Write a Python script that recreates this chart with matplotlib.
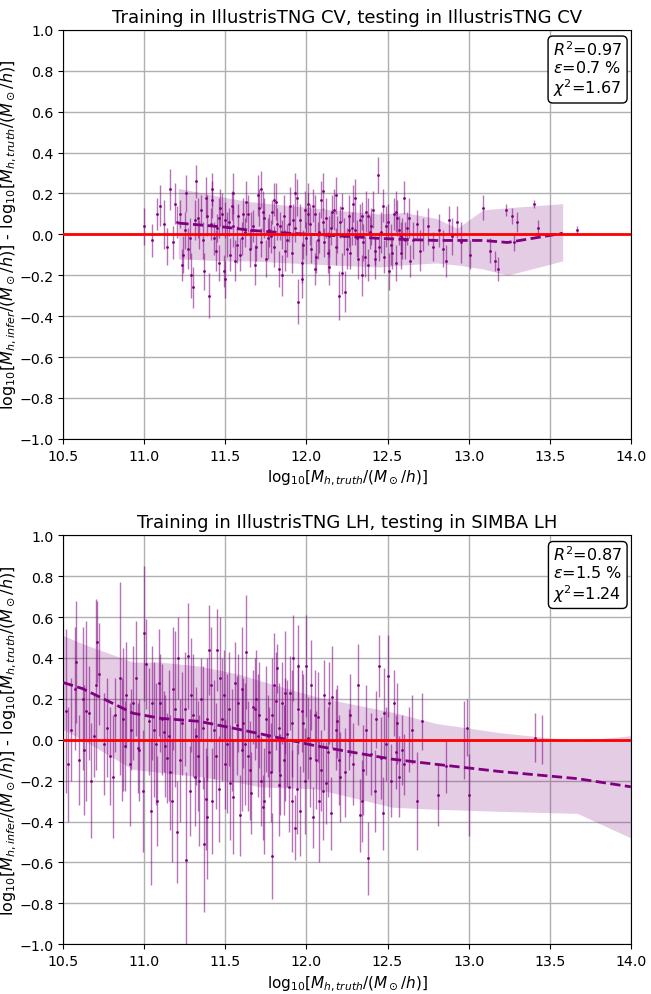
import numpy as np
import matplotlib
matplotlib.use("Agg")
import matplotlib.pyplot as plt

# ---- top panel: IllustrisTNG CV -> IllustrisTNG CV ----
top_x = [11.00, 11.05, 11.10, 11.12, 11.16, 11.18, 11.22, 11.25, 11.27, 11.29,
         11.30, 11.32, 11.33, 11.35, 11.36, 11.38, 11.40, 11.41, 11.42, 11.44,
         11.45, 11.46, 11.48, 11.49, 11.50, 11.51, 11.53, 11.54, 11.55, 11.57,
         11.58, 11.60, 11.62, 11.63, 11.65, 11.67, 11.70, 11.71, 11.72, 11.74,
         11.75, 11.77, 11.79, 11.80, 11.82, 11.83, 11.85, 11.86, 11.88, 11.90,
         11.91, 11.93, 11.95, 11.96, 11.97, 11.99, 12.00, 12.02, 12.03, 12.05,
         12.06, 12.08, 12.09, 12.11, 12.12, 12.14, 12.15, 12.17, 12.18, 12.20,
         12.21, 12.23, 12.24, 12.26, 12.27, 12.29, 12.30, 12.32, 12.33, 12.35,
         12.37, 12.38, 12.40, 12.42, 12.44, 12.46, 12.48, 12.50, 12.52, 12.54,
         12.55, 12.57, 12.59, 12.60, 12.61, 12.63, 12.64, 12.66, 12.68, 12.70,
         12.72, 12.75, 12.78, 12.82, 12.84, 12.86, 12.88, 12.90, 12.93, 12.95,
         13.01, 13.09, 13.13, 13.16, 13.18, 13.23, 13.27, 13.28, 13.30, 13.40,
         13.43, 13.67,
         11.20, 11.24, 11.34, 11.39, 11.43, 11.47, 11.52, 11.56, 11.61, 11.66,
         11.69, 11.73, 11.78, 11.81, 11.84, 11.87, 11.92, 11.94, 11.98, 12.01,
         12.04, 12.07, 12.10, 12.13, 12.16, 12.19, 12.22, 12.25, 12.28, 12.31,
         12.34, 12.36, 12.39, 12.41, 12.45, 12.49, 12.53, 12.56, 12.58, 12.62,
         11.08, 11.14, 11.19, 11.23, 11.26, 11.28, 11.31, 11.37, 11.42, 11.46,
         11.50, 11.55, 11.59, 11.64, 11.68, 11.72, 11.76, 11.80, 11.85, 11.89,
         11.93, 11.97, 12.01, 12.05, 12.10, 12.14, 12.18, 12.22, 12.26, 12.30,
         12.34, 12.38, 12.42, 12.47, 12.51, 12.55, 12.58]
top_y = [0.04, -0.03, 0.14, 0.05, 0.22, -0.04, 0.10, 0.02, -0.07, -0.20,
         -0.26, 0.26, 0.08, 0.12, -0.03, 0.18, -0.30, 0.05, 0.17, -0.08,
         0.03, -0.14, 0.10, -0.18, 0.07, 0.00, -0.10, 0.14, 0.04, -0.05,
         0.09, -0.02, 0.01, 0.16, -0.07, 0.04, 0.19, 0.13, -0.04, 0.08,
         -0.12, 0.02, 0.11, -0.06, 0.05, -0.17, 0.00, 0.09, -0.03, 0.14,
         -0.09, 0.03, -0.33, 0.07, -0.14, 0.12, -0.02, 0.05, -0.07, 0.10,
         -0.11, 0.01, 0.17, -0.04, 0.08, -0.16, 0.03, 0.12, -0.06, -0.30,
         0.06, -0.01, -0.28, 0.09, -0.09, 0.15, 0.02, -0.12, 0.07, -0.04,
         0.11, -0.15, 0.04, -0.08, 0.29, 0.01, -0.11, 0.06, -0.05, 0.10,
         -0.14, 0.02, -0.02, 0.18, -0.03, 0.08, -0.13, -0.03, 0.05, -0.08,
         0.00, 0.04, -0.06, 0.02, -0.07, -0.13, 0.07, -0.01, 0.06, -0.04,
         -0.10, 0.13, -0.08, -0.13, -0.17, 0.12, 0.09, -0.04, 0.06, 0.15,
         0.03, 0.02,
         0.06, -0.10, 0.00, 0.09, -0.02, 0.13, 0.06, -0.13, 0.10, 0.02,
         -0.06, 0.11, -0.01, 0.16, 0.04, -0.08, 0.07, 0.18, -0.05, 0.10,
         0.14, -0.03, 0.06, -0.09, 0.11, 0.00, 0.13, -0.07, 0.03, -0.02,
         0.09, -0.11, 0.01, 0.12, -0.06, 0.04, -0.09, 0.08, -0.01, 0.03,
         0.10, -0.06, 0.15, -0.15, 0.20, -0.02, 0.07, -0.18, 0.22, 0.08,
         -0.22, 0.20, -0.10, 0.10, -0.15, 0.22, -0.02, 0.17, -0.20, 0.05,
         0.20, -0.22, 0.15, -0.17, 0.21, -0.01, 0.19, -0.19, 0.02, 0.18,
         -0.20, 0.09, -0.12, 0.14, -0.18, 0.11, -0.09]
top_err = [0.09, 0.08, 0.10, 0.12, 0.10, 0.08, 0.07, 0.09, 0.10, 0.11,
           0.10, 0.08, 0.10, 0.07, 0.09, 0.10, 0.11, 0.08, 0.09, 0.10,
           0.07, 0.09, 0.10, 0.08, 0.09, 0.11, 0.08, 0.07, 0.10, 0.09,
           0.06, 0.08, 0.07, 0.10, 0.09, 0.08, 0.10, 0.09, 0.07, 0.10,
           0.09, 0.08, 0.06, 0.10, 0.08, 0.09, 0.07, 0.10, 0.08, 0.09,
           0.10, 0.07, 0.11, 0.08, 0.10, 0.09, 0.08, 0.10, 0.07, 0.09,
           0.08, 0.10, 0.09, 0.07, 0.10, 0.09, 0.08, 0.10, 0.09, 0.12,
           0.08, 0.09, 0.10, 0.10, 0.08, 0.09, 0.07, 0.10, 0.08, 0.09,
           0.10, 0.08, 0.09, 0.07, 0.09, 0.10, 0.08, 0.09, 0.10, 0.08,
           0.09, 0.07, 0.10, 0.08, 0.09, 0.10, 0.08, 0.09, 0.07, 0.10,
           0.08, 0.09, 0.07, 0.08, 0.09, 0.08, 0.07, 0.09, 0.08, 0.10,
           0.07, 0.06, 0.06, 0.05, 0.06, 0.03, 0.04, 0.04, 0.05, 0.02,
           0.04, 0.02,
           0.08, 0.09, 0.07, 0.10, 0.08, 0.09, 0.07, 0.10, 0.08, 0.09,
           0.07, 0.10, 0.08, 0.09, 0.07, 0.10, 0.08, 0.09, 0.07, 0.10,
           0.08, 0.09, 0.07, 0.10, 0.08, 0.09, 0.07, 0.10, 0.08, 0.09,
           0.07, 0.10, 0.08, 0.09, 0.07, 0.10, 0.08, 0.09, 0.07, 0.08,
           0.08, 0.09, 0.10, 0.08, 0.09, 0.10, 0.10, 0.09, 0.08, 0.10,
           0.09, 0.10, 0.08, 0.09, 0.10, 0.09, 0.10, 0.08, 0.10, 0.09,
           0.10, 0.09, 0.10, 0.08, 0.09, 0.10, 0.09, 0.10, 0.08, 0.09,
           0.10, 0.09, 0.10, 0.08, 0.09, 0.10, 0.08]

top_bin_x = [11.21, 11.50, 11.65, 11.90, 12.15, 12.45, 12.60, 12.80, 12.93, 13.09, 13.24, 13.58]
top_mean = [0.055, 0.035, 0.02, 0.005, -0.005, -0.02, -0.025, -0.03, -0.03, -0.03, -0.04, 0.005]
top_hi = [0.225, 0.18, 0.16, 0.14, 0.12, 0.10, 0.107, 0.078, 0.03, 0.12, 0.13, 0.15]
top_lo = [-0.12, -0.13, -0.13, -0.14, -0.15, -0.16, -0.15, -0.14, -0.15, -0.17, -0.20, -0.13]

# ---- bottom panel: IllustrisTNG LH -> SIMBA LH ----
bot_x = [10.52, 10.55, 10.58, 10.60, 10.62, 10.64, 10.66, 10.69, 10.70, 10.71,
         10.75, 10.79, 10.82, 10.85, 10.86, 10.88, 10.89, 10.92, 10.93, 10.96,
         10.97, 11.00, 11.01, 11.04, 11.05, 11.07, 11.10, 11.11, 11.12, 11.13,
         11.14, 11.16, 11.18, 11.21, 11.23, 11.26, 11.27, 11.28, 11.30, 11.32,
         11.33, 11.35, 11.37, 11.38, 11.39, 11.40, 11.41, 11.43, 11.45, 11.46,
         11.48, 11.50, 11.52, 11.54, 11.56, 11.58, 11.59, 11.60, 11.61, 11.63,
         11.65, 11.67, 11.68, 11.70, 11.72, 11.73, 11.75, 11.76, 11.78, 11.79,
         11.80, 11.82, 11.83, 11.85, 11.86, 11.87, 11.89, 11.90, 11.91, 11.92,
         11.93, 11.95, 11.96, 11.98, 12.00, 12.01, 12.03, 12.04, 12.06, 12.08,
         12.09, 12.11, 12.13, 12.15, 12.16, 12.18, 12.21, 12.26, 12.29, 12.32,
         12.33, 12.34, 12.37, 12.38, 12.43, 12.45, 12.46, 12.47, 12.48, 12.50,
         12.54, 12.55, 12.56, 12.59, 12.60, 12.65, 12.68, 12.71, 12.81, 12.86,
         12.97, 12.99, 13.00, 13.41, 13.45,
         10.67, 10.77, 10.91, 11.03, 11.08, 11.15, 11.20, 11.25, 11.31, 11.36,
         11.44, 11.49, 11.53, 11.57, 11.62, 11.66, 11.71, 11.77, 11.81, 11.84,
         11.88, 11.94, 11.97, 12.02, 12.07, 12.12, 12.19, 12.24, 12.40, 12.52,
         10.53, 10.57, 10.63, 10.72, 10.81, 10.87, 10.95, 10.99, 11.06, 11.09,
         11.17, 11.19, 11.22, 11.29, 11.34, 11.39, 11.42, 11.47, 11.51, 11.55,
         11.60, 11.64, 11.69, 11.74, 11.79, 11.83, 11.87, 11.91, 11.95, 11.99,
         12.05, 12.10, 12.14, 12.20, 12.27, 12.35, 12.42, 12.49, 12.57, 12.63]
bot_y = [0.14, 0.05, 0.38, -0.10, 0.20, 0.14, 0.13, 0.02, 0.27, 0.48,
         -0.02, -0.08, 0.12, 0.30, 0.00, -0.03, 0.22, 0.05, 0.18, -0.04,
         -0.05, 0.52, 0.37, -0.35, 0.18, -0.02, 0.18, 0.10, 0.04, -0.03,
         -0.09, -0.16, 0.25, 0.40, 0.08, -0.59, 0.41, -0.25, 0.12, 0.02,
         -0.08, 0.20, -0.51, -0.29, -0.38, 0.44, 0.27, 0.05, 0.44, -0.24,
         0.10, -0.12, 0.15, 0.00, 0.28, 0.18, -0.37, -0.05, 0.08, 0.43,
         -0.15, 0.16, 0.15, 0.02, -0.20, -0.33, 0.10, 0.02, -0.16, -0.57,
         0.27, 0.35, 0.06, 0.18, -0.10, 0.23, -0.23, 0.23, 0.08, 0.40,
         -0.43, 0.36, -0.35, 0.08, 0.36, 0.01, 0.27, -0.38, -0.10, -0.30,
         -0.15, 0.22, -0.06, -0.36, 0.21, 0.05, -0.18, 0.00, -0.12, 0.27,
         -0.37, -0.30, 0.05, -0.58, 0.10, 0.36, -0.09, -0.36, 0.13, 0.31,
         0.18, -0.06, 0.08, -0.05, -0.12, 0.05, -0.30, 0.09, -0.27, -0.13,
         0.00, 0.06, -0.27, 0.01, 0.00,
         -0.20, 0.06, -0.12, 0.09, -0.30, 0.02, -0.45, 0.15, -0.18, 0.06,
         -0.08, 0.22, -0.21, 0.07, -0.02, -0.26, 0.12, -0.06, 0.19, -0.17,
         0.03, -0.24, 0.14, -0.09, 0.11, -0.21, 0.09, -0.16, -0.07, -0.20,
         -0.12, 0.25, -0.05, 0.32, -0.18, 0.10, 0.30, -0.25, 0.05, 0.28,
         -0.30, 0.15, -0.10, 0.22, -0.20, 0.10, -0.30, 0.30, -0.02, -0.28,
         0.25, -0.08, 0.20, -0.30, 0.12, -0.22, 0.00, -0.30, 0.15, -0.20,
         0.12, -0.25, 0.18, -0.10, 0.12, -0.15, -0.25, -0.02, -0.18, 0.00]
bot_err = [0.40, 0.25, 0.30, 0.22, 0.35, 0.44, 0.23, 0.20, 0.42, 0.20,
           0.25, 0.24, 0.18, 0.47, 0.30, 0.22, 0.26, 0.20, 0.28, 0.22,
           0.25, 0.33, 0.22, 0.36, 0.28, 0.30, 0.24, 0.27, 0.20, 0.25,
           0.22, 0.28, 0.30, 0.20, 0.25, 0.43, 0.26, 0.22, 0.30, 0.24,
           0.27, 0.20, 0.33, 0.25, 0.30, 0.22, 0.28, 0.24, 0.20, 0.26,
           0.30, 0.22, 0.28, 0.25, 0.20, 0.24, 0.20, 0.30, 0.22, 0.28,
           0.24, 0.18, 0.25, 0.30, 0.22, 0.16, 0.26, 0.20, 0.24, 0.21,
           0.25, 0.12, 0.22, 0.20, 0.27, 0.30, 0.22, 0.18, 0.26, 0.21,
           0.16, 0.20, 0.22, 0.24, 0.25, 0.20, 0.22, 0.15, 0.24, 0.30,
           0.20, 0.17, 0.22, 0.18, 0.25, 0.20, 0.22, 0.15, 0.20, 0.20,
           0.18, 0.20, 0.22, 0.18, 0.14, 0.15, 0.20, 0.18, 0.22, 0.20,
           0.16, 0.18, 0.20, 0.17, 0.15, 0.17, 0.24, 0.14, 0.15, 0.13,
           0.19, 0.14, 0.20, 0.12, 0.12,
           0.28, 0.24, 0.30, 0.26, 0.22, 0.32, 0.25, 0.28, 0.24, 0.30,
           0.26, 0.22, 0.28, 0.24, 0.30, 0.20, 0.26, 0.22, 0.24, 0.20,
           0.26, 0.22, 0.20, 0.24, 0.22, 0.20, 0.18, 0.22, 0.20, 0.18,
           0.28, 0.30, 0.32, 0.25, 0.30, 0.35, 0.28, 0.30, 0.33, 0.26,
           0.30, 0.38, 0.30, 0.28, 0.32, 0.30, 0.26, 0.30, 0.34, 0.28,
           0.30, 0.27, 0.24, 0.26, 0.28, 0.25, 0.30, 0.25, 0.22, 0.26,
           0.22, 0.24, 0.20, 0.22, 0.20, 0.22, 0.20, 0.18, 0.20, 0.16]

bot_bin_x = [10.50, 10.62, 10.93, 11.10, 11.34, 11.59, 11.71, 12.06, 12.53, 12.80, 13.19, 13.67, 14.00]
bot_mean = [0.28, 0.25, 0.13, 0.105, 0.09, 0.05, 0.03, -0.03, -0.095, -0.12, -0.155, -0.19, -0.23]
bot_hi = [0.51, 0.47, 0.38, 0.38, 0.36, 0.32, 0.29, 0.21, 0.135, 0.08, 0.035, -0.005, 0.02]
bot_lo = [0.05, 0.00, -0.145, -0.16, -0.18, -0.21, -0.23, -0.24, -0.33, -0.34, -0.35, -0.36, -0.48]

panels = [
    ("Training in IllustrisTNG CV, testing in IllustrisTNG CV",
     top_x, top_y, top_err, top_bin_x, top_mean, top_hi, top_lo,
     "$R^2$=0.97\n$\\epsilon$=0.7 %\n$\\chi^2$=1.67"),
    ("Training in IllustrisTNG LH, testing in SIMBA LH",
     bot_x, bot_y, bot_err, bot_bin_x, bot_mean, bot_hi, bot_lo,
     "$R^2$=0.87\n$\\epsilon$=1.5 %\n$\\chi^2$=1.24"),
]

fig = plt.figure(figsize=(6.51, 9.95), dpi=100)
axes = [fig.add_axes([0.097, 0.558, 0.872, 0.411]),
        fig.add_axes([0.097, 0.050, 0.872, 0.411])]

ylab = r"log$_{10}$[$M_{h,infer}/(M_\odot/h)$] - log$_{10}$[$M_{h,truth}/(M_\odot/h)$]"
xlab = r"log$_{10}$[$M_{h,truth}/(M_\odot/h)$]"

for ax, (title, x, y, e, bx, bm, bh, bl, txt) in zip(axes, panels):
    ax.grid(True, color="#b0b0b0", lw=1, zorder=0)
    ax.fill_between(bx, bl, bh, color="purple", alpha=0.2, lw=0, zorder=1)
    ax.errorbar(x, y, yerr=e, fmt="none", ecolor="purple", elinewidth=1, alpha=0.55, zorder=2)
    ax.plot(x, y, ".", color="purple", ms=2, zorder=3)
    ax.plot(bx, bm, "--", color="purple", lw=2, zorder=4)
    ax.axhline(0, color="red", lw=2, zorder=5)
    ax.set_xlim(10.5, 14.0)
    ax.set_ylim(-1.0, 1.0)
    ax.set_xticks(np.arange(10.5, 14.01, 0.5))
    ax.set_yticks(np.arange(-1.0, 1.01, 0.2))
    ax.set_axisbelow(True)
    ax.tick_params(labelsize=10.2)
    ax.set_title(title, fontsize=13)
    ax.set_xlabel(xlab, fontsize=11)
    ax.set_ylabel(ylab, fontsize=11.5)
    ax.yaxis.set_label_coords(-0.078, 0.5)
    ax.text(0.985, 0.978, txt, transform=ax.transAxes, ha="right", va="top", fontsize=11.5,
            multialignment="left", linespacing=1.1, zorder=6,
            bbox=dict(boxstyle="round,pad=0.3", fc="white", ec="black", lw=1))

fig.savefig("out.png", dpi=100)
